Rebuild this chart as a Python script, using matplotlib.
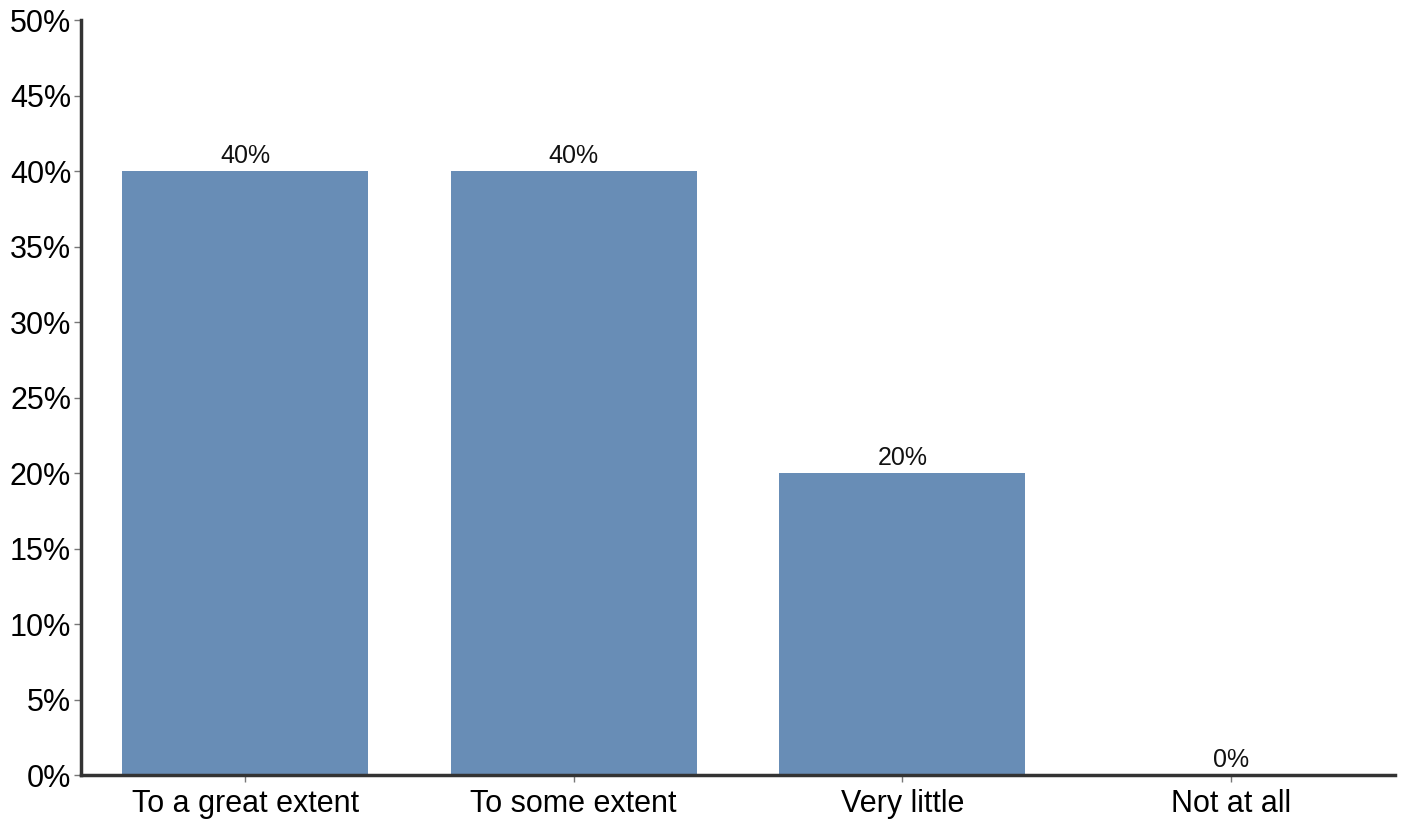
import matplotlib
matplotlib.use("Agg")
import matplotlib.pyplot as plt
from matplotlib.ticker import PercentFormatter

categories = ["To a great extent", "To some extent", "Very little", "Not at all"]
values = [40, 40, 20, 0]
value_labels = ["40%", "40%", "20%", "0%"]
y_ticks = [0, 5, 10, 15, 20, 25, 30, 35, 40, 45, 50]

plt.rcParams["font.family"] = ["Liberation Sans", "DejaVu Sans"]

fig = plt.figure(figsize=(14.08, 8.21), dpi=100)
ax = fig.add_axes([0.0575, 0.056, 0.9333, 0.9196])

x = range(len(categories))
bars = ax.bar(x, values, width=0.75, color="#688db6")
for b, lab in zip(bars, value_labels):
    ax.text(b.get_x() + b.get_width() / 2, b.get_height() + 0.2, lab,
            ha="center", va="bottom", fontsize=18, color="#111111")

ax.set_xlim(-0.5, 3.5)
ax.set_ylim(0, 50)
ax.set_yticks(y_ticks)
ax.yaxis.set_major_formatter(PercentFormatter(decimals=0))
ax.set_xticks(list(x))
ax.set_xticklabels(categories)
ax.tick_params(axis="both", labelsize=22, colors="#777777", labelcolor="black",
               length=5, width=1)
ax.tick_params(axis="x", pad=5)
ax.tick_params(axis="y", pad=2)

for side in ("top", "right"):
    ax.spines[side].set_visible(False)
for side in ("left", "bottom"):
    ax.spines[side].set_color("#333333")
    ax.spines[side].set_linewidth(2.5)

fig.savefig("out.png", dpi=100)
